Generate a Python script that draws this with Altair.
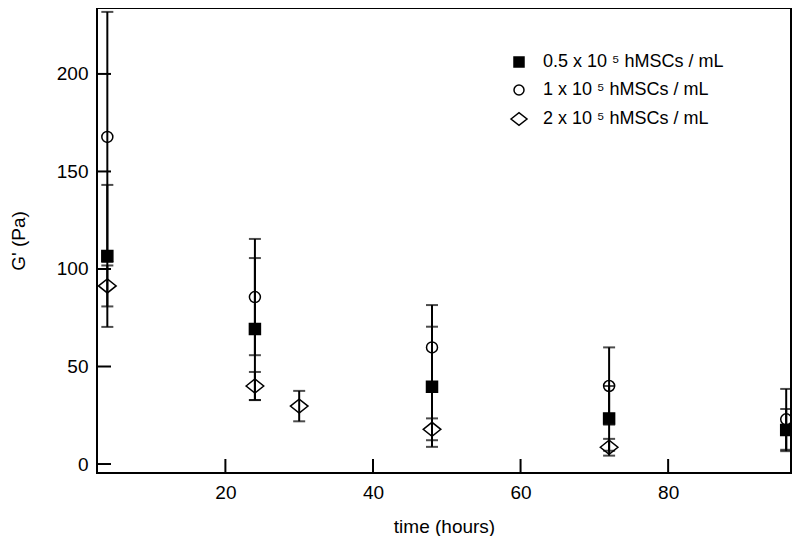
import altair as alt
import pandas as pd

# ---- data ----
labels = ["0.5 x 10 ⁵ hMSCs / mL", "1 x 10 ⁵ hMSCs / mL", "2 x 10 ⁵ hMSCs / mL"]

t_low = [4, 24, 48, 72, 96]
g_low = [106.7, 69.2, 39.6, 23.4, 17.4]
e_low = [36.4, 36.4, 30.8, 16.6, 10.8]

t_mid = [4, 24, 48, 72, 96]
g_mid = [167.7, 85.6, 59.8, 40.0, 22.9]
e_mid = [64.1, 29.8, 21.7, 19.8, 15.6]

t_high = [4, 24, 30, 48, 72]
g_high = [91.3, 40.0, 29.7, 17.8, 8.6]
e_high = [10.5, 7.2, 7.8, 5.6, 4.3]

x_tick_values = [20, 40, 60, 80]
y_tick_values = [0, 50, 100, 150, 200]

rows = []
for lab, ts, gs, es in zip(labels, [t_low, t_mid, t_high], [g_low, g_mid, g_high], [e_low, e_mid, e_high]):
    for t, g, e in zip(ts, gs, es):
        rows.append({"series": lab, "time": t, "g": g, "lo": g - e, "hi": g + e})
df = pd.DataFrame(rows)
xdf = pd.DataFrame({"v": x_tick_values})
ydf = pd.DataFrame({"v": y_tick_values})

W, H = 694, 465
FONT = "Liberation Sans"
TICK = 14

xs = alt.Scale(domain=[2.6, 96.65], nice=False, zero=False)
ys = alt.Scale(domain=[-4.6, 233.8], nice=False, zero=False)

x_axis = alt.Axis(title="time (hours)", values=x_tick_values, tickSize=0, domain=False, grid=False,
                  labelPadding=10, labelFontSize=19, titleFontSize=19, titleFontWeight="normal",
                  titlePadding=15, labelFont=FONT, titleFont=FONT, labelColor="black", titleColor="black")
y_axis = alt.Axis(title="G' (Pa)", values=y_tick_values, tickSize=0, domain=False, grid=False,
                  labelPadding=9, labelFontSize=19, titleFontSize=19, titleFontWeight="normal",
                  titlePadding=28, labelFont=FONT, titleFont=FONT, labelColor="black", titleColor="black")

X = alt.X("time:Q", scale=xs, axis=x_axis)

leg = alt.Legend(title=None, orient="none", legendX=413, legendY=45, labelFontSize=18, labelFont=FONT,
                 labelColor="black", symbolStrokeWidth=1.5, rowPadding=10, labelOffset=15, padding=0,
                 labelLimit=0)

# flattened diamond, ~18 px wide x 14 px tall at size 121
diamond = "M-1.6,0L0,-1.27L1.6,0L0,1.27Z"

base = alt.Chart(df)

err = base.mark_rule(color="black", strokeWidth=2).encode(
    x=X, y=alt.Y("lo:Q", scale=ys, axis=y_axis), y2="hi:Q")
cap_hi = base.mark_tick(orient="horizontal", size=12, thickness=2, color="black").encode(
    x=X, y=alt.Y("hi:Q", scale=ys, axis=y_axis))
cap_lo = base.mark_tick(orient="horizontal", size=12, thickness=2, color="black").encode(
    x=X, y=alt.Y("lo:Q", scale=ys, axis=y_axis))
pts = base.mark_point(filled=True, size=121, strokeWidth=1.5, opacity=1, fillOpacity=1, strokeOpacity=1).encode(
    x=X, y=alt.Y("g:Q", scale=ys, axis=y_axis),
    shape=alt.Shape("series:N", scale=alt.Scale(domain=labels, range=["square", "circle", diamond]), legend=leg),
    fill=alt.Fill("series:N", scale=alt.Scale(domain=labels, range=["black", "transparent", "transparent"]), legend=leg),
    stroke=alt.Stroke("series:N", scale=alt.Scale(domain=labels, range=["black", "black", "black"]), legend=leg),
)

yt = alt.Chart(ydf).mark_rule(color="black", strokeWidth=2).encode(
    y=alt.Y("v:Q", scale=ys, axis=y_axis), x=alt.value(0), x2=alt.value(TICK))
xt = alt.Chart(xdf).mark_rule(color="black", strokeWidth=2).encode(
    x=alt.X("v:Q", scale=xs, axis=x_axis), y=alt.value(H), y2=alt.value(H - TICK))

chart = alt.layer(err, cap_hi, cap_lo, pts, yt, xt).properties(
    width=W, height=H,
    autosize=alt.AutoSizeParams(type="none"),
    padding={"left": 89, "top": 0, "right": 1, "bottom": 63},
).configure(background="white").configure_view(stroke="black", strokeWidth=2)

chart.save("out.html", embed_options={"renderer": "svg", "actions": False})
